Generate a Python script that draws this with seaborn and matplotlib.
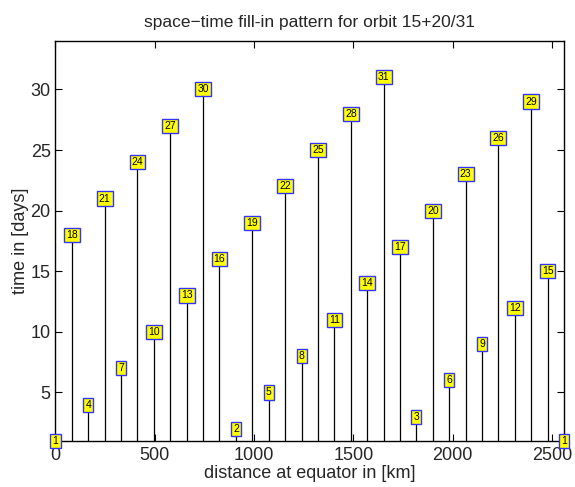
import numpy as np
import matplotlib
matplotlib.use("Agg")
import matplotlib.pyplot as plt
import seaborn as sns

# ==============================
# DATA
# ==============================

distance_km = [0, 83, 165, 248, 331, 413, 496, 578, 661, 744, 826, 909,
               992, 1074, 1157, 1240, 1322, 1405, 1488, 1570, 1653, 1735,
               1818, 1901, 1983, 2066, 2149, 2231, 2314, 2397, 2479, 2562]

day = [1, 18, 4, 21, 7, 24, 10, 27, 13, 30, 16, 2, 19, 5, 22, 8,
       25, 11, 28, 14, 31, 17, 3, 20, 6, 23, 9, 26, 12, 29, 15, 1]

x_ticks = [0, 500, 1000, 1500, 2000, 2500]
y_ticks = [5, 10, 15, 20, 25, 30]

# ==============================
# STYLE
# ==============================

sns.set_style("ticks")
plt.rcParams["font.family"] = ["Liberation Sans", "DejaVu Sans"]
plt.rcParams["xtick.direction"] = "in"
plt.rcParams["ytick.direction"] = "in"

fig = plt.figure(figsize=(5.75, 4.87), dpi=100)
ax = fig.add_axes([0.0965, 0.0945, 0.8845, 0.8215])

# ==============================
# STEMS + LABEL BOXES
# ==============================

ax.vlines(distance_km, 0, day, colors="black", linewidth=0.9)

for x, d in zip(distance_km, day):
    ax.text(x, d, str(d), ha="center", va="center", fontsize=7.5,
            color="black", clip_on=False, zorder=5,
            bbox=dict(boxstyle="square,pad=0.2", facecolor="#ffff00",
                      edgecolor="#3333ff", linewidth=1.0))

ax.set_xlim(0, 2562)
ax.set_ylim(1, 34)
ax.set_xticks(x_ticks)
ax.set_yticks(y_ticks)
ax.tick_params(axis="both", labelsize=13, length=5, width=0.8,
               top=True, right=True, color="black")
ax.tick_params(axis="x", pad=4)
for s in ax.spines.values():
    s.set_linewidth(1.0)
    s.set_color("black")

ax.set_title("space\u2212time fill-in pattern for orbit 15+20/31", fontsize=12.5, pad=10)
ax.set_xlabel("distance at equator in [km]", fontsize=13, labelpad=1)
ax.set_ylabel("time in [days]", fontsize=13, labelpad=1)

fig.savefig("out.png", dpi=100)
